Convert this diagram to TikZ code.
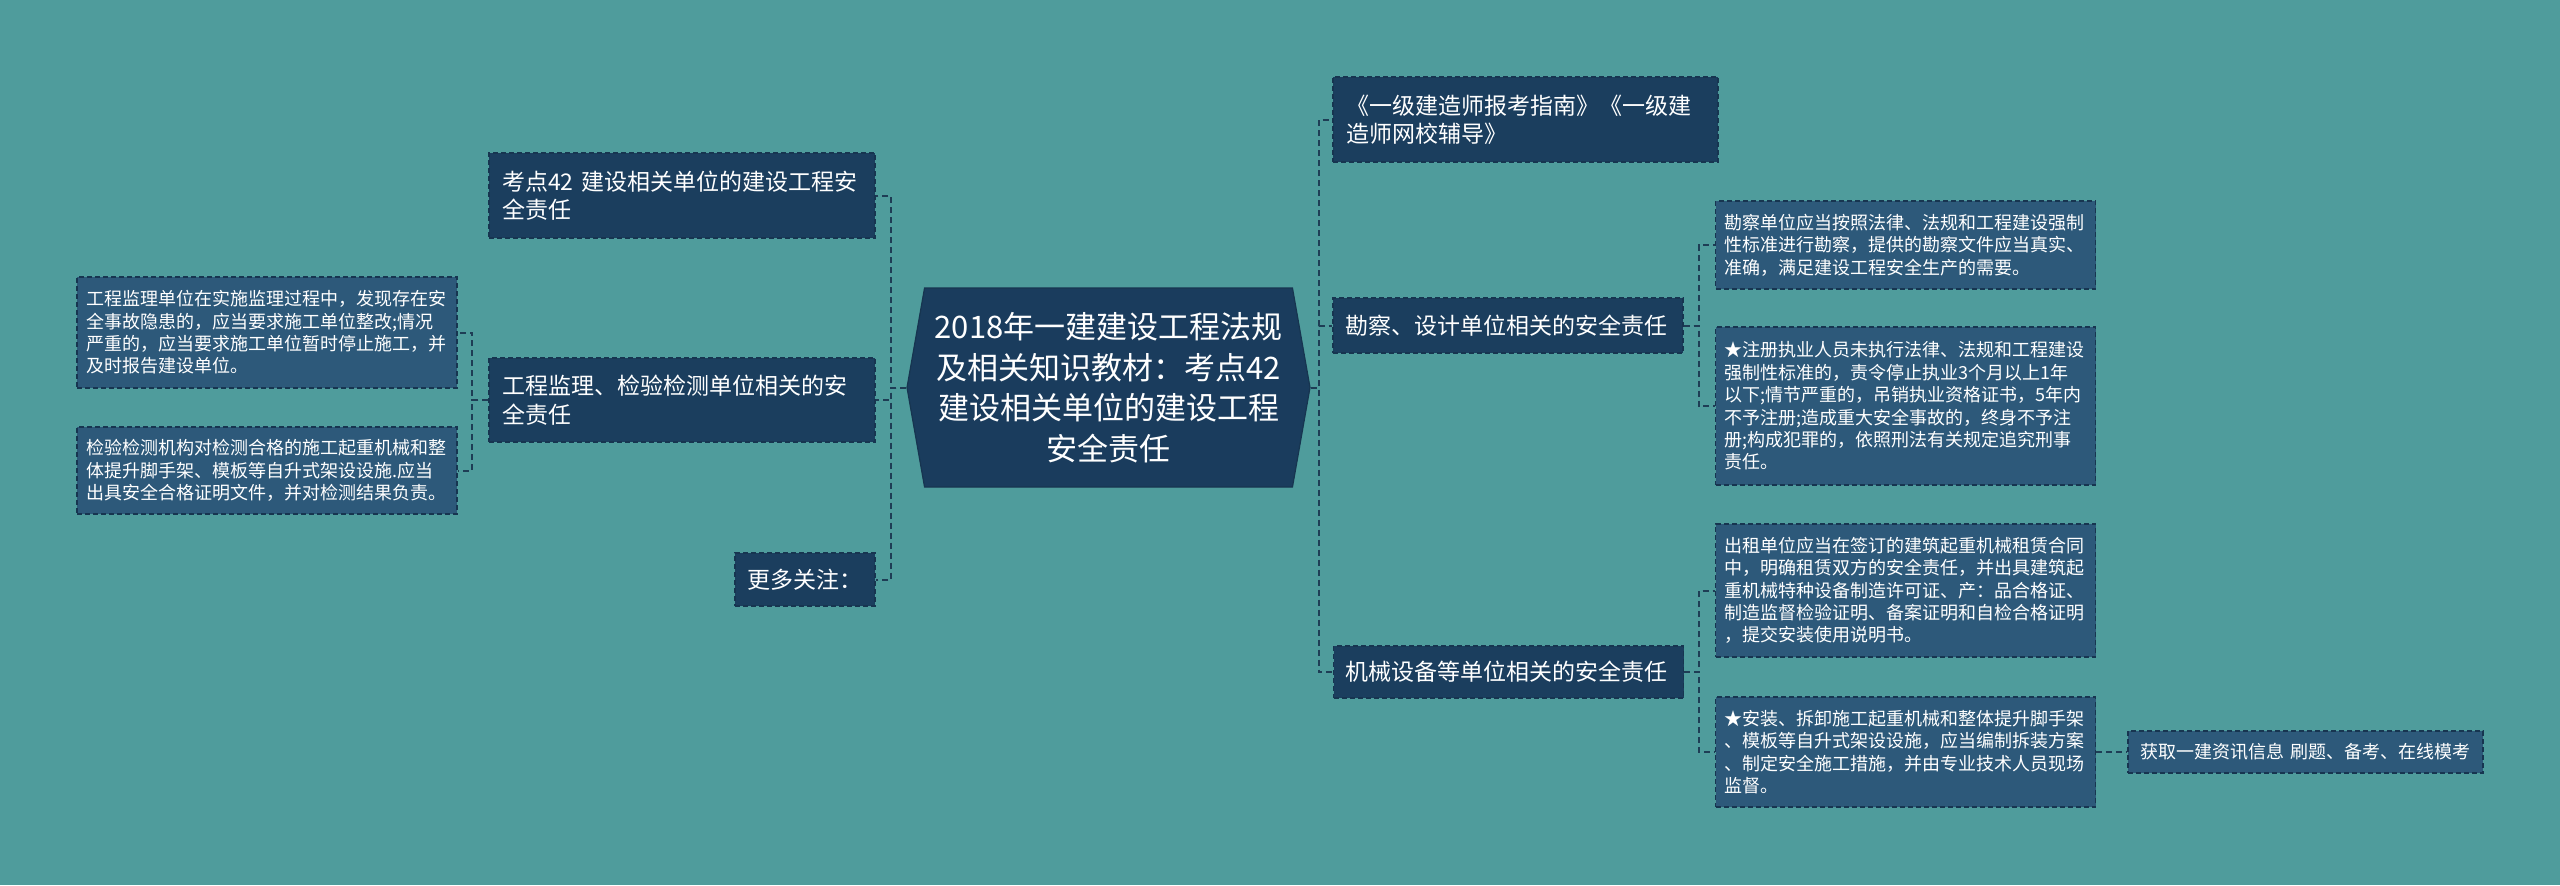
\documentclass[tikz,border=0pt]{standalone}
\usepackage{fontspec}
\newfontfamily\cjk{Noto Sans CJK SC}
\usetikzlibrary{shapes.symbols}

\definecolor{bgteal}{HTML}{4F9C9C}
\definecolor{rootblue}{HTML}{1A3C5D}
\definecolor{topicblue}{HTML}{1B3E5E}
\definecolor{leafblue}{HTML}{2D597A}
\definecolor{edgeblue}{HTML}{173550}
\definecolor{linkblue}{HTML}{1E3D55}

\begin{document}
\begin{tikzpicture}[x=0.5pt, y=-0.5pt, font=\cjk, text=white]
        \tikzset{rootbox/.style={signal, signal to=west and east, signal pointer angle=160, fill=rootblue, draw=edgeblue, line width=0.6pt, minimum width=201.5pt, minimum height=99.5pt, inner sep=0pt, align=center, font=\cjk\fontsize{15.5}{20.3}\selectfont},
                 topic/.style={rectangle, fill=topicblue, draw=edgeblue, line width=0.6pt, dash pattern=on 2.5pt off 1.5pt, inner xsep=6.5pt, inner ysep=0pt, align=left, font=\cjk\fontsize{11.5}{14.2}\selectfont},
                 leaf/.style={rectangle, fill=leafblue, draw=edgeblue, line width=0.6pt, dash pattern=on 2.5pt off 1.5pt, inner xsep=4.5pt, inner ysep=0pt, text width=181pt, align=left, font=\cjk\fontsize{9}{11.2}\selectfont},
                 link/.style={draw=linkblue, line width=1pt, dash pattern=on 3pt off 2pt}}

        \fill[bgteal] (0,0) rectangle (2560,885);
        \useasboundingbox (0,0) rectangle (2560,885);

        \node[rootbox] (root) at (1108.5,387.5) {2018年一建建设工程法规\\及相关知识教材：考点42\\建设相关单位的建设工程\\安全责任};

        % left side
        \node[topic, text width=180pt, minimum height=42.5pt] (k42) at (682,195.5) {考点42 建设相关单位的建设工程安\\全责任};
        \node[topic, text width=180pt, minimum height=42pt] (jianli) at (682,400) {工程监理、检验检测单位相关的安\\全责任};
        \node[topic, text width=57.5pt, inner xsep=6.25pt, minimum height=26.5pt] (more) at (805,579.5) {更多关注：};

        \node[leaf, minimum height=55.5pt] (jianli1) at (267,332.5) {工程监理单位在实施监理过程中，发现存在安\\全事故隐患的，应当要求施工单位整改;情况\\严重的，应当要求施工单位暂时停止施工，并\\及时报告建设单位。};
        \node[leaf, minimum height=43.5pt] (jianli2) at (267,470.5) {检验检测机构对检测合格的施工起重机械和整\\体提升脚手架、模板等自升式架设设施.应当\\出具安全合格证明文件，并对检测结果负责。};

        % right side
        \node[topic, text width=179.5pt, minimum height=42.5pt] (guide) at (1525.5,119.5) {《一级建造师报考指南》《一级建\\造师网校辅导》};
        \node[topic, text width=163pt, inner xsep=6pt, minimum height=27.5pt] (kancha) at (1508,325.5) {勘察、设计单位相关的安全责任};
        \node[topic, text width=163pt, inner xsep=6pt, minimum height=26pt] (jixie) at (1508.5,672) {机械设备等单位相关的安全责任};

        \node[leaf, minimum height=44pt] (kancha1) at (1905.5,245) {勘察单位应当按照法律、法规和工程建设强制\\性标准进行勘察，提供的勘察文件应当真实、\\准确，满足建设工程安全生产的需要。};
        \node[leaf, minimum height=79pt] (kancha2) at (1905.5,406) {★注册执业人员未执行法律、法规和工程建设\\强制性标准的，责令停止执业3个月以上1年\\以下;情节严重的，吊销执业资格证书，5年内\\不予注册;造成重大安全事故的，终身不予注\\册;构成犯罪的，依照刑法有关规定追究刑事\\责任。};
        \node[leaf, minimum height=66.5pt] (jixie1) at (1905.5,590.5) {出租单位应当在签订的建筑起重机械租赁合同\\中，明确租赁双方的安全责任，并出具建筑起\\重机械特种设备制造许可证、产：品合格证、\\制造监督检验证明、备案证明和自检合格证明\\，提交安装使用说明书。};
        \node[leaf, minimum height=55pt] (jixie2) at (1905.5,752) {★安装、拆卸施工起重机械和整体提升脚手架\\、模板等自升式架设设施，应当编制拆装方案\\、制定安全施工措施，并由专业技术人员现场\\监督。};
        \node[leaf, text width=165pt, inner xsep=6.25pt, minimum height=21pt] (info) at (2305.5,752) {获取一建资讯信息 刷题、备考、在线模考};

        \draw[link] (root.west) -- ++(-15,0) |- (k42.east);
        \draw[link] (root.west) -- ++(-15,0) |- (jianli.east);
        \draw[link] (root.west) -- ++(-15,0) |- (more.east);
        \draw[link] (jianli.west) -- ++(-16,0) |- (jianli1.east);
        \draw[link] (jianli.west) -- ++(-16,0) |- (jianli2.east);

        \draw[link] (root.east) -- ++(8,0) |- (guide.west);
        \draw[link] (root.east) -- ++(8,0) |- (kancha.west);
        \draw[link] (root.east) -- ++(8,0) |- (jixie.west);
        \draw[link] (kancha.east) -- ++(15,0) |- (kancha1.west);
        \draw[link] (kancha.east) -- ++(15,0) |- (kancha2.west);
        \draw[link] (jixie.east) -- ++(15,0) |- (jixie1.west);
        \draw[link] (jixie.east) -- ++(15,0) |- (jixie2.west);
        \draw[link] (jixie2.east) -- (info.west);
    \end{tikzpicture}
\end{document}
